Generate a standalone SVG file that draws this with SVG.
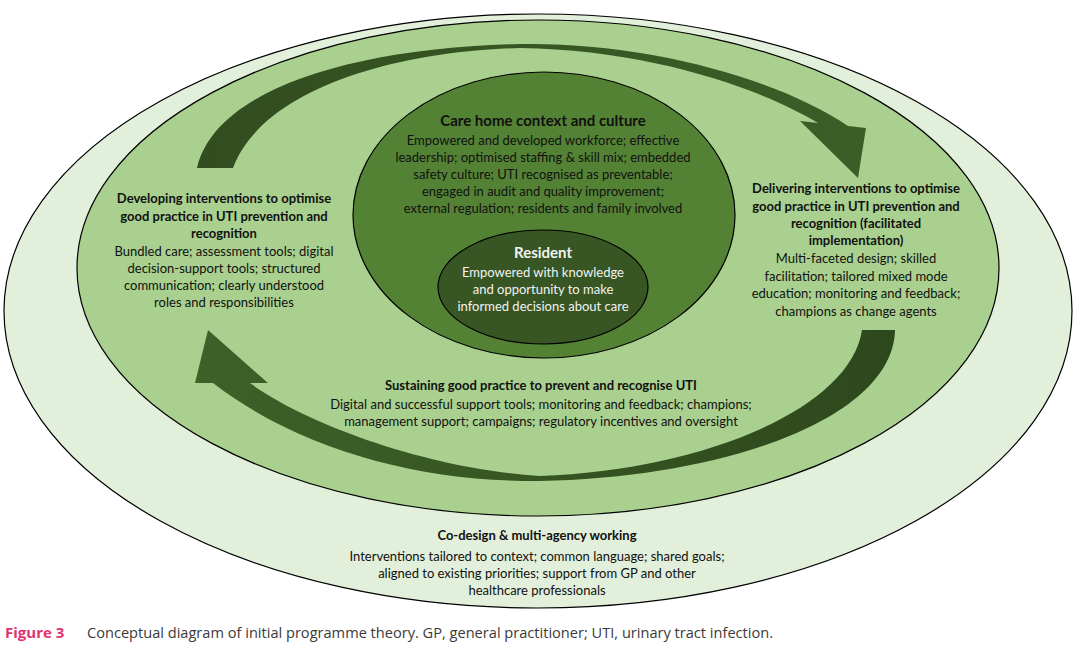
<svg xmlns="http://www.w3.org/2000/svg" width="1075" height="652" viewBox="0 0 1075 652">
<defs>
<style>
.t{font-family:Lato,"Open Sans","Liberation Sans",sans-serif;font-size:13px;fill:#111;text-anchor:middle}
.b{font-weight:bold}
.w{fill:#f2f2f2}
.e{stroke:#000;stroke-width:1.2}
.cap{font-family:"Open Sans","Liberation Sans",sans-serif;font-size:15px;fill:#3a3a3a}
</style>
<linearGradient id="gb" x1="0" y1="0" x2="1" y2="0">
<stop offset="0" stop-color="#3d6128"/><stop offset="1" stop-color="#2e481d"/>
</linearGradient>
<linearGradient id="gt" x1="0" y1="0" x2="1" y2="0">
<stop offset="0" stop-color="#324d20"/><stop offset="1" stop-color="#3b5e27"/>
</linearGradient>
</defs>
<rect width="1075" height="652" fill="#fff"/>
<g id="outer">
<ellipse class="e" cx="538" cy="311" rx="534" ry="297" fill="#e2efda"/>
<text class="t b" x="537" y="540">Co-design &amp; multi-agency working</text>
<text class="t" x="537" y="561">Interventions tailored to context; common language; shared goals;</text>
<text class="t" x="537" y="578">aligned to existing priorities; support from GP and other</text>
<text class="t" x="537" y="595">healthcare professionals</text>
</g>
<g id="middle">
<ellipse class="e" cx="538" cy="268" rx="461" ry="248" fill="#a9d08e"/>
</g>
<g id="connectors">
<path id="arrow-top" fill="url(#gt)" d="M197,168 C215,90 350,48 520,44 C650,42 780,80 848,126 L866,128 L858,178 L800,121 L818,123 C760,88 650,50 520,48 C380,52 260,95 233,168 Z"/>
<path id="arrow-bottom" fill="url(#gb)" d="M862,330 L895,330 C893,420 720,478 540,481 C420,482 300,450 213,383 L195,383 L208,330 L268,383 L250,383 C300,420 420,468 540,476 C700,470 850,410 862,330 Z"/>
</g>
<g id="developing">
<text class="t b" x="224" y="203">Developing interventions to optimise</text>
<text class="t b" x="224" y="221">good practice in UTI prevention and</text>
<text class="t b" x="224" y="238">recognition</text>
<text class="t" x="224" y="256">Bundled care; assessment tools; digital</text>
<text class="t" x="224" y="273">decision-support tools; structured</text>
<text class="t" x="224" y="290">communication; clearly understood</text>
<text class="t" x="224" y="307">roles and responsibilities</text>
</g>
<g id="delivering">
<text class="t b" x="856" y="193">Delivering interventions to optimise</text>
<text class="t b" x="856" y="211">good practice in UTI prevention and</text>
<text class="t b" x="856" y="228">recognition (facilitated</text>
<text class="t b" x="856" y="245">implementation)</text>
<text class="t" x="856" y="263">Multi-faceted design; skilled</text>
<text class="t" x="856" y="281">facilitation; tailored mixed mode</text>
<text class="t" x="856" y="298">education; monitoring and feedback;</text>
<text class="t" x="856" y="316">champions as change agents</text>
</g>
<g id="sustaining">
<text class="t b" x="541" y="390">Sustaining good practice to prevent and recognise UTI</text>
<text class="t" x="541" y="409">Digital and successful support tools; monitoring and feedback; champions;</text>
<text class="t" x="541" y="426">management support; campaigns; regulatory incentives and oversight</text>
</g>
<g id="carehome">
<ellipse class="e" cx="544" cy="215" rx="191" ry="143" fill="#548235"/>
<text class="t b" x="543" y="126" style="font-size:15px">Care home context and culture</text>
<text class="t" x="543" y="145">Empowered and developed workforce; effective</text>
<text class="t" x="543" y="162">leadership; optimised staffing &amp; skill mix; embedded</text>
<text class="t" x="543" y="179">safety culture; UTI recognised as preventable;</text>
<text class="t" x="543" y="196">engaged in audit and quality improvement;</text>
<text class="t" x="543" y="213">external regulation; residents and family involved</text>
</g>
<g id="resident">
<ellipse class="e" cx="543" cy="287" rx="105" ry="57" fill="#375623"/>
<text class="t b w" x="543" y="258" style="font-size:15px">Resident</text>
<text class="t w" x="543" y="277">Empowered with knowledge</text>
<text class="t w" x="543" y="294">and opportunity to make</text>
<text class="t w" x="543" y="311">informed decisions about care</text>
</g>
<g id="caption">
<text class="cap" x="5" y="638"><tspan font-weight="bold" fill="#e0336e">Figure 3</tspan></text>
<text class="cap" x="87" y="638" textLength="686" lengthAdjust="spacingAndGlyphs">Conceptual diagram of initial programme theory. GP, general practitioner; UTI, urinary tract infection.</text>
</g>
</svg>
